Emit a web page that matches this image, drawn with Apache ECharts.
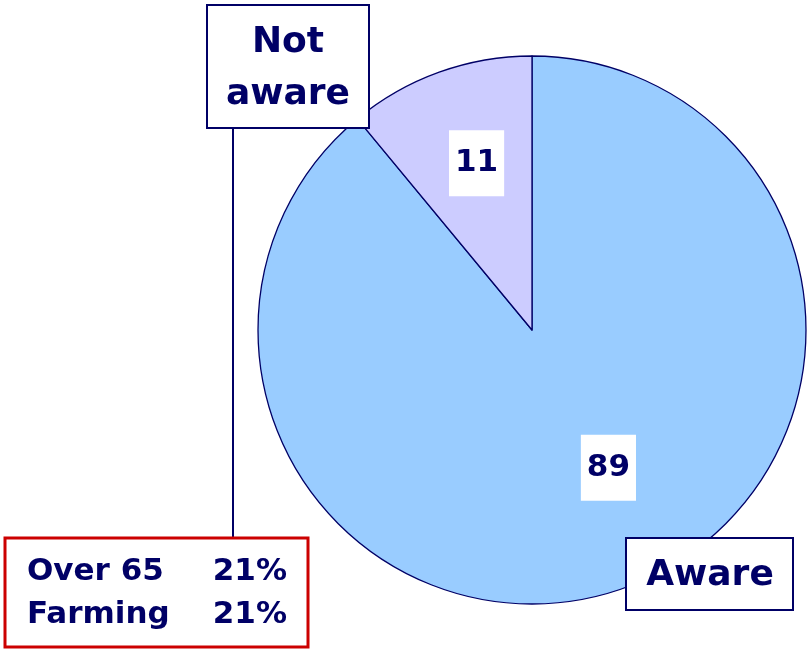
<!DOCTYPE html>
<html>
<head>
<meta charset="utf-8">
<script src="https://cdn.jsdelivr.net/npm/echarts@6/dist/echarts.min.js"></script>
<style>
  html, body { margin: 0; padding: 0; background: #ffffff; }
  #chart { width: 807px; height: 650px; }
</style>
</head>
<body>
<div id="chart"></div>
<script>
// ---- data ----
var categories = ['Aware', 'Not aware'];
var values = [89, 11];
var sliceColors = ['#99CCFF', '#CCCCFF'];
var noteLabels = ['Over 65', 'Farming'];
var noteValues = ['21%', '21%'];

var textColor = '#000066';
var font = '"DejaVu Sans", Verdana, sans-serif';

var chart = echarts.init(document.getElementById('chart'), null, { renderer: 'canvas' });

var labelOffsets = [[29, 6], [-8, -35]];

var seriesData = categories.map(function (name, i) {
  return {
    name: name,
    value: values[i],
    itemStyle: { color: sliceColors[i] },
    label: { offset: labelOffsets[i] }
  };
});

var graphics = [
  // "Not aware" box
  { type: 'rect', shape: { x: 207, y: 5, width: 162, height: 123 },
    style: { fill: '#ffffff', stroke: '#000066', lineWidth: 2 }, z: 10 },
  { type: 'text', x: 288, y: 43, z: 11,
    style: { text: 'Not', font: 'bold 36px ' + font, fill: textColor, align: 'center', verticalAlign: 'middle' } },
  { type: 'text', x: 288, y: 95, z: 11,
    style: { text: 'aware', font: 'bold 36px ' + font, fill: textColor, align: 'center', verticalAlign: 'middle' } },
  // connector line
  { type: 'line', shape: { x1: 233, y1: 128, x2: 233, y2: 537 },
    style: { stroke: '#000066', lineWidth: 2 }, z: 10 },
  // "Aware" box
  { type: 'rect', shape: { x: 626, y: 538, width: 167, height: 72 },
    style: { fill: '#ffffff', stroke: '#000066', lineWidth: 2 }, z: 10 },
  { type: 'text', x: 710, y: 576, z: 11,
    style: { text: 'Aware', font: 'bold 36px ' + font, fill: textColor, align: 'center', verticalAlign: 'middle' } },
  // red note box
  { type: 'rect', shape: { x: 5, y: 538, width: 303, height: 109 },
    style: { fill: '#ffffff', stroke: '#CC0000', lineWidth: 3 }, z: 10 }
];

noteLabels.forEach(function (lab, i) {
  var y = 572 + i * 43;
  graphics.push({ type: 'text', x: 27, y: y, z: 11,
    style: { text: lab, font: 'bold 31px ' + font, fill: textColor, align: 'left', verticalAlign: 'middle' } });
  graphics.push({ type: 'text', x: 287, y: y, z: 11,
    style: { text: noteValues[i], font: 'bold 31px ' + font, fill: textColor, align: 'right', verticalAlign: 'middle' } });
});

chart.setOption({
  animation: false,
  backgroundColor: '#ffffff',
  series: [{
    type: 'pie',
    center: [532, 330],
    radius: [0, 274],
    startAngle: 90,
    clockwise: true,
    avoidLabelOverlap: false,
    itemStyle: { borderColor: '#000066', borderWidth: 1.3 },
    emphasis: { disabled: true },
    label: {
      show: true,
      position: 'inside',
      formatter: '{c}',
      color: textColor,
      fontFamily: font,
      fontWeight: 'bold',
      fontSize: 31,
      lineHeight: 34,
      backgroundColor: '#ffffff',
      padding: [16, 6]
    },
    labelLine: { show: false },
    data: seriesData
  }],
  graphic: graphics
});
</script>
</body>
</html>
